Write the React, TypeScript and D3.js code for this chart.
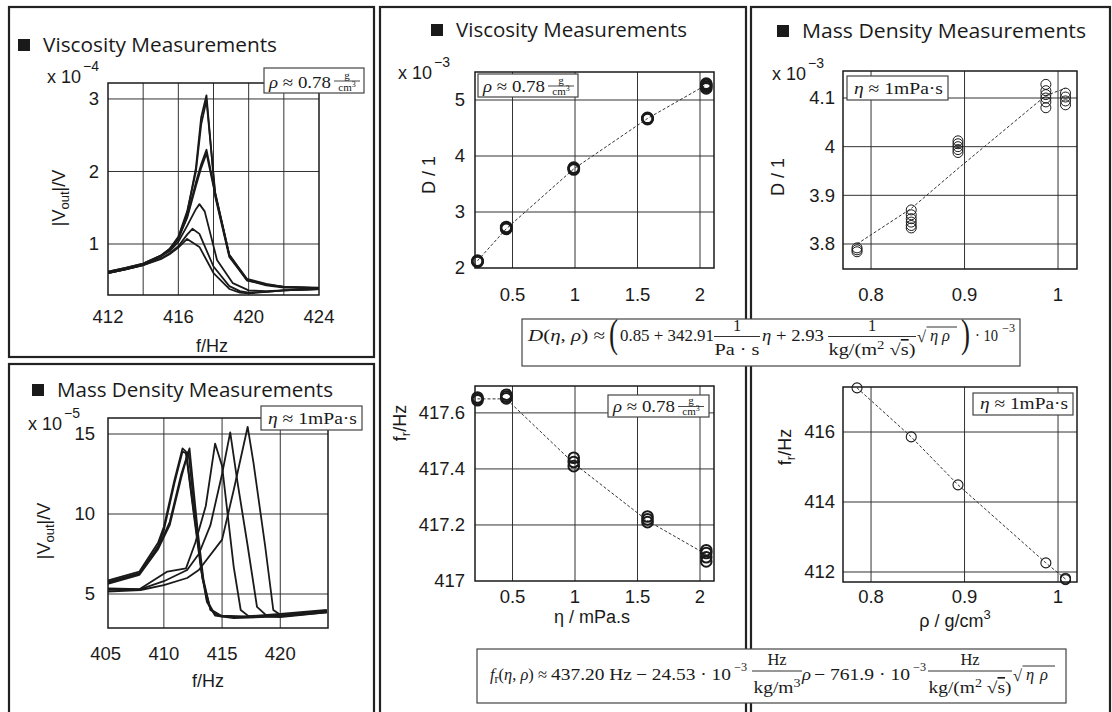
import React from 'react'
import * as d3 from 'd3'

// resonance curves, viscosity series: [f in Hz, |Vout| in 1e-4 V]
const viscCurveA = [[412,0.61],[413,0.66],[414,0.72],[415,0.83],[415.5,0.92],[416,1.08],[416.5,1.42],[417,2.05],[417.3,2.75],[417.6,3.05],[418.1,1.65],[418.9,0.82],[419.9,0.5],[421,0.44],[422,0.41],[424,0.39]]
const viscCurveB = [[412,0.62],[413,0.67],[414,0.73],[415,0.84],[415.5,0.93],[416,1.1],[416.5,1.45],[417,2.0],[417.3,2.65],[417.6,2.98],[418.1,1.7],[418.9,0.85],[419.9,0.52],[421,0.45],[422,0.41],[424,0.4]]
const viscCurveC = [[412,0.61],[413,0.66],[414,0.72],[415,0.83],[415.5,0.92],[416,1.07],[416.5,1.38],[417,1.85],[417.3,2.1],[417.6,2.3],[418.1,1.7],[418.9,0.85],[419.9,0.5],[421,0.43],[422,0.4],[424,0.39]]
const viscCurveD = [[412,0.62],[413,0.67],[414,0.73],[415,0.84],[415.5,0.93],[416,1.08],[416.5,1.36],[417,1.8],[417.3,2.05],[417.6,2.25],[418.1,1.68],[418.9,0.84],[419.9,0.51],[421,0.44],[422,0.41],[424,0.39]]
const viscCurveE = [[412,0.6],[413,0.65],[414,0.71],[415,0.83],[415.5,0.9],[416,1.03],[416.5,1.25],[417,1.48],[417.2,1.55],[417.5,1.45],[418.2,0.78],[419.1,0.46],[420,0.36],[421,0.35],[422,0.36],[424,0.38]]
const viscCurveF = [[412,0.6],[413,0.65],[414,0.71],[415,0.8],[415.5,0.87],[416,0.97],[416.5,1.13],[416.8,1.21],[417.2,1.14],[418,0.69],[418.9,0.42],[419.5,0.35],[420,0.33],[421,0.34],[422,0.36],[424,0.38]]
const viscCurveG = [[412,0.6],[413,0.65],[414,0.71],[415,0.79],[415.5,0.86],[416,0.95],[416.5,1.07],[417.2,0.96],[418,0.6],[418.9,0.38],[419.5,0.33],[420,0.32],[421,0.34],[422,0.36],[424,0.38]]
const viscCurves = [viscCurveA, viscCurveB, viscCurveC, viscCurveD, viscCurveE, viscCurveF, viscCurveG]

// resonance curves, mass density series: [f in Hz, |Vout| in 1e-5 V]
const densCurveA = [[405,5.8],[407.9,6.4],[409.5,8.2],[410,9.2],[410.9,12.1],[411.6,14.1],[411.9,13.9],[412.6,10.0],[413.2,6.7],[413.7,4.6],[414.4,3.7],[416,3.55],[420,3.65],[424,3.9]]
const densCurveB = [[405,5.72],[407.9,6.3],[409.5,8.0],[410,9.0],[410.9,11.9],[411.6,13.9],[411.9,13.8],[412.6,9.8],[413.2,6.5],[413.7,4.5],[414.4,3.65],[416,3.5],[420,3.6],[424,3.85]]
const densCurveC = [[405,5.65],[407.9,6.25],[409.5,7.9],[410.5,9.5],[411.5,12.5],[412.2,14.1],[412.9,9.0],[413.4,5.9],[414,4.0],[414.9,3.6],[417,3.55],[420,3.7],[424,3.95]]
const densCurveD = [[405,5.6],[407.9,6.2],[409.5,7.8],[410.5,9.3],[411.5,12.3],[412.1,13.9],[412.8,9.2],[413.3,6.0],[414,4.05],[414.9,3.65],[417,3.6],[420,3.75],[424,4.0]]
const densCurveE = [[405,5.35],[407.9,5.3],[410.3,6.4],[411.9,6.6],[412.7,8.2],[413.6,10.5],[414.4,14.4],[415,13.0],[416,6.7],[416.6,4.0],[417.3,3.6],[420,3.6],[424,3.9]]
const densCurveF = [[405,5.25],[408,5.3],[410,5.8],[412,6.5],[413,7.5],[414,9.3],[415,12.5],[415.7,15.1],[416.3,12.1],[417.2,8.0],[418,4.2],[418.9,3.6],[420,3.55],[424,3.85]]
const densCurveG = [[405,5.15],[408,5.25],[410,5.55],[412,6.0],[413,6.5],[415,8.4],[416,11.5],[417.2,15.45],[417.7,13.2],[418.7,8.0],[419.4,4.0],[420,3.7],[424,3.95]]
const densCurves = [densCurveA, densCurveB, densCurveC, densCurveD, densCurveE, densCurveF, densCurveG]

// damping / resonance frequency vs viscosity (rho ~ 0.78 g/cm3)
const etaLevels = [0.22, 0.45, 0.99, 1.58, 2.05]
const dVisc = [[2.11, 2.12, 2.13], [2.7, 2.71, 2.73], [3.76, 3.78, 3.79], [4.66, 4.67, 4.68], [5.21, 5.24, 5.27, 5.29]]
const dViscFit = [2.13, 2.7, 3.77, 4.67, 5.27]
const frVisc = [[417.645, 417.65, 417.655], [417.652, 417.658, 417.665], [417.41, 417.425, 417.44], [417.21, 417.22, 417.23], [417.07, 417.085, 417.1, 417.11]]
const frViscFit = [417.65, 417.65, 417.42, 417.215, 417.095]

// damping / resonance frequency vs mass density (eta ~ 1 mPa s)
const rhoLevels = [0.785, 0.843, 0.893, 0.987, 1.008]
const dDens = [[3.784, 3.788, 3.792], [3.833, 3.838, 3.845, 3.852, 3.86, 3.87], [3.988, 3.994, 4.0, 4.006, 4.012], [4.08, 4.092, 4.1, 4.107, 4.115, 4.128], [4.086, 4.094, 4.102, 4.11]]
const dDensFit = [3.8, 3.873, 3.955, 4.105, 4.12]
const frDens = [[417.26], [415.86], [414.49], [412.26], [411.78, 411.8, 411.82]]
const frDensFit = [417.26, 415.86, 414.49, 412.26, 411.8]

const SANS = "'Liberation Sans', Arial, sans-serif"
const TITLE = "'Open Sans', 'Noto Sans', sans-serif"
const SERIF = "'Liberation Serif', 'DejaVu Serif', serif"
const INK = '#1a1a1a'

type PlotProps = {
  id: string
  box: number[]
  xDomain: number[]
  yDomain: number[]
  xGrid: number[]
  yGrid: number[]
  xTicks: number[]
  yTicks: number[]
  xTickY: number
  yTickX: number
  curves?: number[][][]
  xs?: number[]
  clusters?: number[][]
  fit?: number[]
  r?: number
  sw?: number
}

function Plot(p: PlotProps) {
  const [l, t, rr, b] = p.box
  const x = d3.scaleLinear().domain(p.xDomain).range([l, rr])
  const y = d3.scaleLinear().domain(p.yDomain).range([b, t])
  const line = d3.line<number[]>().x(d => x(d[0])).y(d => y(d[1]))
  const fitPts = p.fit && p.xs ? p.fit.map((v, i) => [p.xs![i], v]) : null
  return (
    <g>
      <clipPath id={p.id}>
        <rect x={l} y={t} width={rr - l} height={b - t} />
      </clipPath>
      {p.xGrid.map(v => (
        <line key={'gx' + v} x1={x(v)} x2={x(v)} y1={t} y2={b} stroke="#333" strokeWidth={1} />
      ))}
      {p.yGrid.map(v => (
        <line key={'gy' + v} x1={l} x2={rr} y1={y(v)} y2={y(v)} stroke="#333" strokeWidth={1} />
      ))}
      <g clipPath={`url(#${p.id})`}>
        {(p.curves || []).map((c, i) => (
          <path key={i} d={line(c) || ''} fill="none" stroke={INK} strokeWidth={1.8} strokeLinejoin="round" />
        ))}
        {fitPts && (
          <path d={line(fitPts) || ''} fill="none" stroke="#333" strokeWidth={1} strokeDasharray="3,2" />
        )}
      </g>
      {p.clusters && p.xs && p.clusters.map((vals, i) =>
        vals.map((v, j) => (
          <circle key={i + '-' + j} cx={x(p.xs![i])} cy={y(v)} r={p.r || 5} fill="none" stroke={INK} strokeWidth={p.sw || 1} />
        ))
      )}
      <rect x={l} y={t} width={rr - l} height={b - t} fill="none" stroke={INK} strokeWidth={1.5} />
      <g fontFamily={SANS} fontSize={18.5} fill={INK}>
        {p.xTicks.map(v => (
          <text key={'tx' + v} x={x(v)} y={p.xTickY} textAnchor="middle">{String(v)}</text>
        ))}
        {p.yTicks.map(v => (
          <text key={'ty' + v} x={p.yTickX} y={y(v)} dy="0.35em" textAnchor="end">{String(v)}</text>
        ))}
      </g>
    </g>
  )
}

function Title({ x, y, text, width }: { x: number; y: number; text: string; width: number }) {
  return (
    <g>
      <rect x={x} y={y - 13} width={12} height={12} fill={INK} />
      <text x={x + 25} y={y} fontFamily={TITLE} fontSize={20} fill={INK} textLength={width} lengthAdjust="spacingAndGlyphs">{text}</text>
    </g>
  )
}

function Multiplier({ x, y, exp }: { x: number; y: number; exp: string }) {
  return (
    <g fontFamily={SANS} fill={INK}>
      <text x={x} y={y} fontSize={18}>x 10</text>
      <text x={x + 36} y={y - 12} fontSize={14}>{exp}</text>
    </g>
  )
}

function YLabel({ cx, cy, children }: { cx: number; cy: number; children: React.ReactNode }) {
  return (
    <text transform={`translate(${cx + 6},${cy}) rotate(-90)`} textAnchor="middle" fontFamily={SANS} fontSize={18} fill={INK}>
      {children}
    </text>
  )
}

function Note({ x, y, w, h, kind }: { x: number; y: number; w: number; h: number; kind: 'rho' | 'eta' }) {
  return (
    <g fontFamily={SERIF} fill={INK}>
      <rect x={x} y={y} width={w} height={h} fill="#fff" stroke="#444" strokeWidth={1.2} />
      {kind === 'rho' ? (
        <g>
          <text x={x + 5} y={y + h - 5} fontSize={17} textLength={62} lengthAdjust="spacingAndGlyphs">
            <tspan fontStyle="italic">ρ</tspan> ≈ 0.78
          </text>
          <text x={x + 83} y={y + h / 2 - 2} fontSize={11} textAnchor="middle">g</text>
          <line x1={x + 70} x2={x + 96} y1={y + h / 2 + 0.5} y2={y + h / 2 + 0.5} stroke={INK} strokeWidth={0.8} />
          <text x={x + 83} y={y + h - 2} fontSize={11} textAnchor="middle">cm<tspan dy={-4} fontSize={8}>3</tspan></text>
        </g>
      ) : (
        <text x={x + 7} y={y + h - 6} fontSize={17} textLength={w - 12} lengthAdjust="spacingAndGlyphs">
          <tspan fontStyle="italic">η</tspan> ≈ 1mPa·s
        </text>
      )}
    </g>
  )
}

function Piece({ x, y, w, children, italic, size }: { x: number; y: number; w: number; children: React.ReactNode; italic?: boolean; size?: number }) {
  return (
    <text x={x} y={y} textLength={w} lengthAdjust="spacingAndGlyphs" fontStyle={italic ? 'italic' : undefined} fontSize={size}>
      {children}
    </text>
  )
}

function Frac({ cx, top, bar, bottom, num, den, w, denW }: { cx: number; top: number; bar: number; bottom: number; num: React.ReactNode; den: React.ReactNode; w: number; denW: number }) {
  return (
    <g>
      <text x={cx} y={top} textAnchor="middle">{num}</text>
      <line x1={cx - w / 2} x2={cx + w / 2} y1={bar} y2={bar} stroke={INK} strokeWidth={0.9} />
      <text x={cx - denW / 2} y={bottom} textLength={denW} lengthAdjust="spacingAndGlyphs">{den}</text>
    </g>
  )
}

const sqrtDen = (
  <>
    kg/(m<tspan dy={-6} fontSize={12}>2</tspan><tspan dy={6}> √</tspan><tspan style={{ textDecoration: 'overline' }}>s</tspan>)
  </>
)

function Root({ x, y, w }: { x: number; y: number; w: number }) {
  return (
    <g>
      <text x={x} y={y + 1}>√</text>
      <line x1={x + 9.5} x2={x + w} y1={y - 14} y2={y - 14} stroke={INK} strokeWidth={0.9} />
      <text x={x + 13} y={y} fontStyle="italic">η</text>
      <text x={x + w - 15} y={y} fontStyle="italic">ρ</text>
    </g>
  )
}

function Formula1() {
  const base = 341
  return (
    <g fontFamily={SERIF} fontSize={16.5} fill={INK}>
      <rect x={522} y={319} width={498} height={47} fill="#fff" stroke="#444" strokeWidth={1.2} />
      <Piece x={528} y={base} w={77}>
        <tspan fontStyle="italic">D</tspan>(<tspan fontStyle="italic">η</tspan>, <tspan fontStyle="italic">ρ</tspan>) ≈
      </Piece>
      <Piece x={609} y={base + 6} w={9} size={40}>(</Piece>
      <Piece x={620} y={base} w={94}>0.85 + 342.91</Piece>
      <Frac cx={737} top={331} bar={336.5} bottom={355} num="1" den="Pa · s" w={46} denW={45} />
      <Piece x={762} y={base} w={62}><tspan fontStyle="italic">η</tspan> + 2.93</Piece>
      <Frac cx={872} top={331} bar={336.5} bottom={355} num="1" den={sqrtDen} w={88} denW={87} />
      <Root x={917} y={base} w={40} />
      <Piece x={961} y={base + 6} w={9} size={40}>)</Piece>
      <Piece x={975} y={base} w={23}>· 10</Piece>
      <Piece x={1002} y={base - 9} w={13} size={11.5}>−3</Piece>
    </g>
  )
}

function Formula2() {
  const base = 680
  return (
    <g fontFamily={SERIF} fontSize={16.5} fill={INK}>
      <rect x={477} y={649} width={589} height={54} fill="#fff" stroke="#444" strokeWidth={1.2} />
      <Piece x={490} y={base} w={57}>
        <tspan fontStyle="italic">f</tspan><tspan dy={3} fontSize={12}>r</tspan><tspan dy={-3}>(</tspan><tspan fontStyle="italic">η</tspan>, <tspan fontStyle="italic">ρ</tspan>) ≈
      </Piece>
      <Piece x={551} y={base} w={81}>437.20 Hz</Piece>
      <Piece x={636} y={base} w={95}>− 24.53 · 10</Piece>
      <Piece x={734} y={base - 9} w={13} size={11.5}>−3</Piece>
      <Frac cx={777} top={665} bar={671} bottom={693} num="Hz" den={<>kg/m<tspan dy={-6} fontSize={12}>3</tspan></>} w={50} denW={47} />
      <Piece x={802} y={base} w={9} italic>ρ</Piece>
      <Piece x={814} y={base} w={96}>− 761.9 · 10</Piece>
      <Piece x={913} y={base - 9} w={13} size={11.5}>−3</Piece>
      <Frac cx={970} top={665} bar={671} bottom={693} num="Hz" den={sqrtDen} w={84} denW={83} />
      <Root x={1013} y={base} w={42} />
    </g>
  )
}

export default function App() {
  return (
    <svg width={1112} height={712} style={{ position: 'absolute', left: 0, top: 0, background: '#fff' }}>
      <rect width={1112} height={712} fill="#fff" />
      {/* panel frames */}
      <g fill="none" stroke="#222" strokeWidth={2.2}>
        <rect x={9} y={7} width={365} height={350} />
        <rect x={9} y={364} width={365} height={360} />
        <rect x={380} y={7} width={366} height={720} />
        <rect x={751} y={7} width={359} height={720} />
      </g>

      {/* top-left: viscosity resonance curves */}
      <Title x={18} y={52} text="Viscosity Measurements" width={234} />
      <Multiplier x={47} y={83} exp="−4" />
      <Plot id="c1" box={[108, 83, 319, 295]} xDomain={[412, 424]} yDomain={[0.297, 3.22]}
        xGrid={[414, 416, 418, 420, 422]} yGrid={[1, 2, 3]} xTicks={[412, 416, 420, 424]} yTicks={[1, 2, 3]}
        xTickY={323} yTickX={99} curves={viscCurves} />
      <YLabel cx={59} cy={198}>|V<tspan dy={4} fontSize={13}>out</tspan><tspan dy={-4}>|/V</tspan></YLabel>
      <text x={212} y={352} textAnchor="middle" fontFamily={SANS} fontSize={18} fill={INK}>f/Hz</text>
      <Note x={264} y={68} w={100} h={25} kind="rho" />

      {/* bottom-left: mass density resonance curves */}
      <Title x={32} y={397} text="Mass Density Measurements" width={276} />
      <Multiplier x={28} y={430} exp="−5" />
      <Plot id="c2" box={[108, 418, 328, 628]} xDomain={[405.2, 424.1]} yDomain={[2.875, 16]}
        xGrid={[410, 415, 420]} yGrid={[5, 10, 15]} xTicks={[405, 410, 415, 420]} yTicks={[5, 10, 15]}
        xTickY={660} yTickX={95} curves={densCurves} />
      <YLabel cx={44} cy={531}>|V<tspan dy={4} fontSize={13}>out</tspan><tspan dy={-4}>|/V</tspan></YLabel>
      <text x={208} y={687} textAnchor="middle" fontFamily={SANS} fontSize={18} fill={INK}>f/Hz</text>
      <Note x={261} y={406} w={101} h={24} kind="eta" />

      {/* middle column: vs viscosity */}
      <Title x={431} y={37} text="Viscosity Measurements" width={231} />
      <Multiplier x={398} y={79} exp="−3" />
      <Plot id="c3" box={[475, 72, 714, 268]} xDomain={[0.2, 2.112]} yDomain={[2, 5.5]}
        xGrid={[0.5, 1, 1.5, 2]} yGrid={[3, 4, 5]} xTicks={[0.5, 1, 1.5, 2]} yTicks={[2, 3, 4, 5]}
        xTickY={301} yTickX={465} xs={etaLevels} clusters={dVisc} fit={dViscFit} r={5.3} sw={2.2} />
      <YLabel cx={429} cy={175}>D / 1</YLabel>
      <Note x={478} y={74} w={100} h={23} kind="rho" />

      <Plot id="c4" box={[475, 386, 714, 581]} xDomain={[0.2, 2.112]} yDomain={[417, 417.696]}
        xGrid={[0.5, 1, 1.5, 2]} yGrid={[417.2, 417.4, 417.6]} xTicks={[0.5, 1, 1.5, 2]} yTicks={[417, 417.2, 417.4, 417.6]}
        xTickY={603} yTickX={465} xs={etaLevels} clusters={frVisc} fit={frViscFit} r={5.3} sw={2} />
      <YLabel cx={400} cy={423}>f<tspan dy={4} fontSize={13}>r</tspan><tspan dy={-4}>/Hz</tspan></YLabel>
      <text x={592} y={623} textAnchor="middle" fontFamily={SANS} fontSize={18} fill={INK}>η  / mPa.s</text>
      <Note x={608} y={395} w={101} h={22} kind="rho" />

      {/* right column: vs mass density */}
      <Title x={777} y={38} text="Mass Density Measurements" width={284} />
      <Multiplier x={772} y={80} exp="−3" />
      <Plot id="c5" box={[843, 71, 1077, 269]} xDomain={[0.77, 1.0203]} yDomain={[3.7486, 4.1555]}
        xGrid={[0.8, 0.9, 1]} yGrid={[3.8, 3.9, 4, 4.1]} xTicks={[0.8, 0.9, 1]} yTicks={[3.8, 3.9, 4, 4.1]}
        xTickY={301} yTickX={835} xs={rhoLevels} clusters={dDens} fit={dDensFit} r={5} sw={1} />
      <YLabel cx={778} cy={177}>D / 1</YLabel>
      <Note x={847} y={76} w={101} h={24} kind="eta" />

      <Plot id="c6" box={[843, 387, 1077, 582]} xDomain={[0.77, 1.0203]} yDomain={[411.714, 417.286]}
        xGrid={[0.8, 0.9, 1]} yGrid={[412, 414, 416]} xTicks={[0.8, 0.9, 1]} yTicks={[412, 414, 416]}
        xTickY={603} yTickX={835} xs={rhoLevels} clusters={frDens} fit={frDensFit} r={5} sw={1.1} />
      <YLabel cx={785} cy={447}>f<tspan dy={4} fontSize={13}>r</tspan><tspan dy={-4}>/Hz</tspan></YLabel>
      <text x={955} y={627} textAnchor="middle" fontFamily={SANS} fontSize={18} fill={INK}>ρ  / g/cm<tspan dy={-8} fontSize={13}>3</tspan></text>
      <Note x={973} y={393} w={100} h={22} kind="eta" />

      <Formula1 />
      <Formula2 />
    </svg>
  )
}
